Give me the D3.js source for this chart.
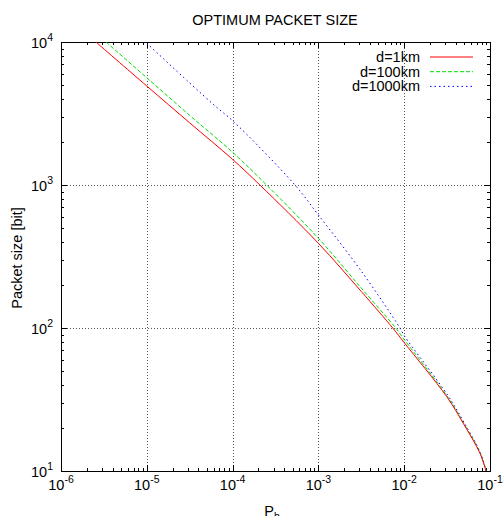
<!DOCTYPE html>
<html>
<head>
<meta charset="utf-8">
<script src="https://cdn.jsdelivr.net/npm/d3@7"></script>
<style>
  body { margin: 0; background: #fff; }
  text { font-family: "Liberation Sans", Arial, sans-serif; font-size: 14.5px; fill: #000; }
</style>
</head>
<body>
<div id="chart"></div>
<script>
// values: [Pb, packet size in bit]
var red1km = [[2.55e-6, 10000], [1e-5, 4920], [3.16e-5, 2720], [1e-4, 1510], [2.08e-4, 1000],
              [1e-3, 391], [3.16e-3, 180], [7.35e-3, 100], [1e-2, 79], [3.13e-2, 33.1],
              [4.89e-2, 21.5], [7.64e-2, 13.3], [9.0e-2, 10]];
var green100km = [[3.35e-6, 10000], [1e-5, 5620], [3.16e-5, 3070], [1e-4, 1694], [2.49e-4, 1000],
                  [1e-3, 424], [3.16e-3, 190], [7.96e-3, 100], [1e-2, 83], [3.15e-2, 33.5],
                  [4.9e-2, 21.7], [7.65e-2, 13.4], [9.0e-2, 10]];
var blue1000km = [[1e-5, 9800], [3.16e-5, 5170], [6.53e-5, 3490], [1e-4, 2818], [5.33e-4, 1000],
                  [1e-3, 617], [3.16e-3, 250], [8.93e-3, 100], [1e-2, 88.5], [3.2e-2, 34],
                  [4.95e-2, 22], [7.7e-2, 13.5], [9.0e-2, 10]];

var seriesNames = ["d=1km", "d=100km", "d=1000km"];
var xTickExp = [-6, -5, -4, -3, -2, -1];
var yTickExp = [1, 2, 3, 4];

(function () {
    var width = 503, height = 516;
    var mLeft = 61, mRight = 490, mTop = 42, mBottom = 471;

    var svg = d3.select("#chart").append("svg")
        .attr("width", width)
        .attr("height", height);

    var x = d3.scaleLog().domain([1e-6, 1e-1]).range([mLeft, mRight]);
    var y = d3.scaleLog().domain([10, 1e4]).range([mBottom, mTop]);

    // grid
    var grid = svg.append("g");
    xTickExp.slice(1, -1).forEach(function (e) {
        var px = Math.round(x(Math.pow(10, e))) + 0.5;
        grid.append("line")
            .attr("x1", px).attr("x2", px)
            .attr("y1", mTop).attr("y2", mBottom)
            .attr("stroke", "#555").attr("stroke-dasharray", "1,2");
    });
    yTickExp.slice(1, -1).forEach(function (e) {
        var py = Math.round(y(Math.pow(10, e))) + 0.5;
        grid.append("line")
            .attr("y1", py).attr("y2", py)
            .attr("x1", mLeft).attr("x2", mRight)
            .attr("stroke", "#555").attr("stroke-dasharray", "1,2");
    });

    // ticks on all four sides, pointing inward
    var ticks = svg.append("g").attr("stroke", "#000");
    x.ticks().forEach(function (v) {
        var major = Math.abs(Math.log10(v) - Math.round(Math.log10(v))) < 1e-6;
        var len = major ? 6 : 3;
        var px = Math.round(x(v)) + 0.5;
        ticks.append("line").attr("x1", px).attr("x2", px).attr("y1", mBottom).attr("y2", mBottom - len);
        ticks.append("line").attr("x1", px).attr("x2", px).attr("y1", mTop).attr("y2", mTop + len);
    });
    y.ticks().forEach(function (v) {
        var major = Math.abs(Math.log10(v) - Math.round(Math.log10(v))) < 1e-6;
        var len = major ? 6 : 3;
        var py = Math.round(y(v)) + 0.5;
        ticks.append("line").attr("y1", py).attr("y2", py).attr("x1", mLeft).attr("x2", mLeft + len);
        ticks.append("line").attr("y1", py).attr("y2", py).attr("x1", mRight).attr("x2", mRight - len);
    });

    // tick labels
    xTickExp.forEach(function (e) {
        var t = svg.append("text")
            .attr("x", x(Math.pow(10, e)))
            .attr("y", 490)
            .attr("text-anchor", "middle");
        t.append("tspan").text("10");
        t.append("tspan").attr("dy", -7).style("font-size", "10.5px").text(e);
    });
    yTickExp.forEach(function (e) {
        var t = svg.append("text")
            .attr("x", 53)
            .attr("y", y(Math.pow(10, e)) + 6)
            .attr("text-anchor", "end");
        t.append("tspan").text("10");
        t.append("tspan").attr("dy", -7).style("font-size", "10.5px").text(e);
    });

    // frame
    svg.append("rect")
        .attr("x", mLeft + 0.5).attr("y", mTop + 0.5)
        .attr("width", mRight - mLeft).attr("height", mBottom - mTop)
        .attr("fill", "none").attr("stroke", "#000");

    // curves
    svg.append("clipPath").attr("id", "clip")
        .append("rect").attr("x", mLeft).attr("y", mTop)
        .attr("width", mRight - mLeft).attr("height", mBottom - mTop);

    var line = d3.line()
        .x(function (d) { return x(d[0]); })
        .y(function (d) { return y(d[1]); })
        .curve(d3.curveCatmullRom.alpha(0.5));

    var styles = [
        { data: red1km, color: "#ff0000", dash: null },
        { data: green100km, color: "#00dd00", dash: "4,2" },
        { data: blue1000km, color: "#0000ff", dash: "1.5,3" }
    ];

    var curves = svg.append("g").attr("clip-path", "url(#clip)");
    styles.slice().reverse().forEach(function (s) {
        curves.append("path")
            .attr("d", line(s.data))
            .attr("fill", "none")
            .attr("stroke", s.color)
            .attr("stroke-width", 1)
            .attr("stroke-dasharray", s.dash);
    });

    // legend
    var legend = svg.append("g");
    styles.forEach(function (s, i) {
        var ly = 57 + i * 14.7;
        legend.append("text")
            .attr("x", 420).attr("y", ly + 5)
            .attr("text-anchor", "end")
            .text(seriesNames[i]);
        legend.append("line")
            .attr("x1", 430).attr("x2", 473)
            .attr("y1", ly).attr("y2", ly)
            .attr("stroke", s.color)
            .attr("stroke-dasharray", s.dash);
    });

    // titles
    svg.append("text")
        .attr("x", 275).attr("y", 25)
        .attr("text-anchor", "middle")
        .text("OPTIMUM PACKET SIZE");

    svg.append("text")
        .attr("transform", "translate(22,258) rotate(-90)")
        .attr("text-anchor", "middle")
        .text("Packet size [bit]");

    var xl = svg.append("text")
        .attr("x", 272).attr("y", 516)
        .attr("text-anchor", "middle");
    xl.append("tspan").text("P");
    xl.append("tspan").attr("dy", 4).style("font-size", "10.5px").text("b");
})();
</script>
</body>
</html>
